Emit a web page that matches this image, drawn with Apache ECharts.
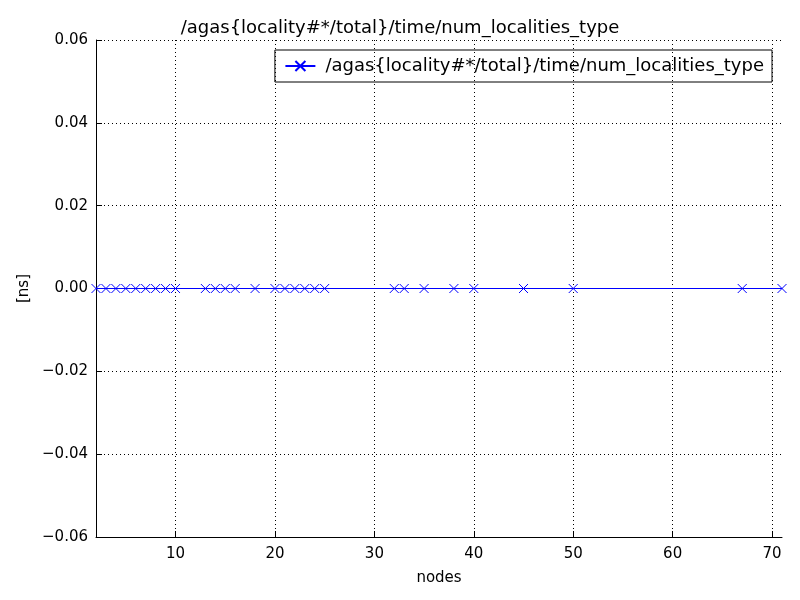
<!DOCTYPE html>
<html>
<head>
<meta charset="utf-8">
<script src="https://cdn.jsdelivr.net/npm/echarts@6/dist/echarts.min.js"></script>
<style>html,body{margin:0;padding:0;background:#fff}#chart{width:800px;height:600px}</style>
</head>
<body>
<div id="chart"></div>
<script>
const seriesName = '/agas{locality#*/total}/time/num_localities_type';
const nodes = [2, 3, 4, 5, 6, 7, 8, 9, 10, 13, 14, 15, 16, 18, 20, 21, 22, 23, 24, 25, 32, 33, 35, 38, 40, 45, 50, 67, 71];
const values = [0, 0, 0, 0, 0, 0, 0, 0, 0, 0, 0, 0, 0, 0, 0, 0, 0, 0, 0, 0, 0, 0, 0, 0, 0, 0, 0, 0, 0];
const xTicks = [10, 20, 30, 40, 50, 60, 70];

const chart = echarts.init(document.getElementById('chart'));
const font = 'DejaVu Sans';
const grid = { show: true, lineStyle: { type: [1, 3], color: '#000' } };

chart.setOption({
  animation: false,
  textStyle: { fontFamily: font },
  title: {
    text: seriesName, left: 'center', top: 14,
    textStyle: { fontFamily: font, fontSize: 18, fontWeight: 'normal', color: '#000' }
  },
  legend: {
    right: 28, top: 50, orient: 'vertical',
    borderColor: '#000', borderWidth: 1, borderRadius: 0, padding: [7, 8, 7, 8],
    itemWidth: 40, itemHeight: 10, itemGap: 0,
    textStyle: { fontFamily: font, fontSize: 18, color: '#000' },
    data: [{ name: seriesName, icon: 'path://M0,0L10,10M10,0L0,10M-10,5L20,5' }]
  },
  grid: { left: 96, right: 18, top: 40, bottom: 63 },
  xAxis: {
    type: 'value', min: 2, max: 71,
    name: 'nodes', nameLocation: 'middle', nameGap: 34,
    nameTextStyle: { fontFamily: font, fontSize: 15, color: '#000' },
    axisLine: { onZero: false, lineStyle: { color: '#000' } },
    axisTick: { inside: true, length: 6, lineStyle: { color: '#000' }, customValues: xTicks },
    axisLabel: { color: '#000', fontSize: 15, fontFamily: font, margin: 10, customValues: xTicks },
    splitLine: grid
  },
  yAxis: {
    type: 'value', min: -0.06, max: 0.06, interval: 0.02,
    name: '[ns]', nameLocation: 'middle', nameGap: 64,
    nameTextStyle: { fontFamily: font, fontSize: 15, color: '#000' },
    axisLine: { show: true, lineStyle: { color: '#000' } },
    axisTick: { inside: true, length: 6, lineStyle: { color: '#000' } },
    axisLabel: { color: '#000', fontSize: 15, fontFamily: font,
      formatter: v => (v < 0 ? '\u2212' : '') + Math.abs(v).toFixed(2) },
    splitLine: grid
  },
  series: [{
    name: seriesName, type: 'line',
    data: nodes.map((n, i) => [n, values[i]]),
    symbol: 'path://M0,0L10,10M10,0L0,10', symbolSize: 9,
    color: '#0000ff',
    lineStyle: { width: 1, color: '#0000ff' },
    itemStyle: { color: 'none', borderColor: '#0000ff', borderWidth: 1 }
  }]
});
</script>
</body>
</html>
